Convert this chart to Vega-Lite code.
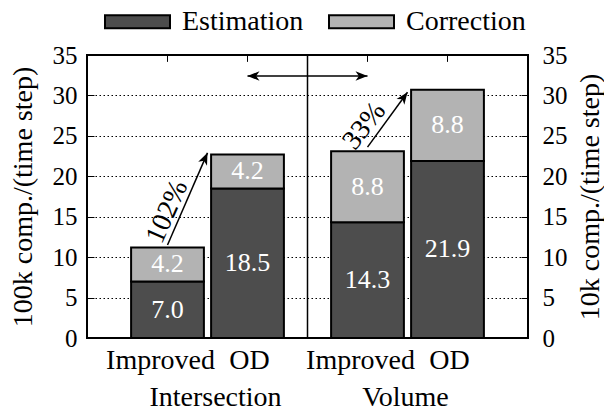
{
  "$schema": "https://vega.github.io/schema/vega-lite/v6.json",
  "width": 441,
  "height": 283,
  "autosize": {"type": "none"},
  "padding": {"left": 87, "top": 55, "right": 76, "bottom": 73},
  "background": "white",
  "config": {
    "font": "Liberation Serif",
    "view": {"stroke": "black", "strokeWidth": 2},
    "axis": {
      "labelFont": "Liberation Serif",
      "titleFont": "Liberation Serif",
      "labelFontSize": 25,
      "titleFontSize": 28,
      "labelColor": "black",
      "titleColor": "black",
      "titleFontWeight": "normal",
      "domain": false
    },
    "legend": {
      "labelFont": "Liberation Serif",
      "labelFontSize": 28,
      "labelColor": "black"
    }
  },
  "datasets": {
    "bars": [
      {"group": "Intersection", "method": "Improved", "part": "Estimation", "value": 7.0},
      {"group": "Intersection", "method": "Improved", "part": "Correction", "value": 4.2},
      {"group": "Intersection", "method": "OD", "part": "Estimation", "value": 18.5},
      {"group": "Intersection", "method": "OD", "part": "Correction", "value": 4.2},
      {"group": "Volume", "method": "Improved", "part": "Estimation", "value": 14.3},
      {"group": "Volume", "method": "Improved", "part": "Correction", "value": 8.8},
      {"group": "Volume", "method": "OD", "part": "Estimation", "value": 21.9},
      {"group": "Volume", "method": "OD", "part": "Correction", "value": 8.8}
    ]
  },
  "resolve": {"scale": {"y": "independent"}},
  "layer": [
    {
      "encoding": {
        "x": {
          "field": "group",
          "type": "nominal",
          "sort": ["Intersection", "Volume"],
          "scale": {"paddingInner": 0, "paddingOuter": 0.1025},
          "axis": {
            "orient": "bottom",
            "title": null,
            "ticks": false,
            "labelAngle": 0,
            "labelPadding": 45,
            "labelBaseline": "top",
            "labelFontSize": 28,
            "labelOffset": {"condition": {"test": "datum.value === 'Intersection'", "value": 8}, "value": -2}
          }
        }
      },
      "layer": [
        {
          "data": {"name": "bars"},
          "mark": {"type": "bar", "stroke": "black", "strokeWidth": 2},
          "encoding": {
            "xOffset": {"field": "method", "type": "nominal", "sort": ["Improved", "OD"], "scale": {"paddingInner": 0.09, "paddingOuter": 0.295}},
            "y": {
              "field": "value",
              "type": "quantitative",
              "stack": "zero",
              "scale": {"domain": [0, 35], "nice": false},
              "axis": {
                "orient": "left",
                "values": [0, 5, 10, 15, 20, 25, 30, 35],
                "title": "100k comp./(time step)",
                "tickSize": -7,
                "tickColor": "black",
                "tickWidth": 1,
                "labelPadding": 17,
                "titlePadding": 15,
                "grid": true,
                "gridColor": "black",
                "gridDash": [1.5, 2.5],
                "gridWidth": 1,
                "gridOpacity": 1
              }
            },
            "color": {
              "field": "part",
              "type": "nominal",
              "scale": {"domain": ["Estimation", "Correction"], "range": ["#4d4d4d", "#b3b3b3"]},
              "legend": {
                "orient": "none",
                "legendX": 17,
                "legendY": -67,
                "direction": "horizontal",
                "title": null,
                "padding": 0,
                "symbolType": "M-1,-0.2H1V0.2H-1Z",
                "symbolSize": 4225,
                "symbolStrokeColor": "black",
                "symbolStrokeWidth": 2,
                "symbolOpacity": 1,
                "labelOffset": 11,
                "columnPadding": 21
              }
            },
            "order": {"field": "part", "sort": "descending"}
          }
        },
        {
          "data": {"name": "bars"},
          "mark": {"type": "text", "color": "white", "fontSize": 26, "baseline": "middle"},
          "encoding": {
            "xOffset": {"field": "method", "type": "nominal", "sort": ["Improved", "OD"], "scale": {"paddingInner": 0.09, "paddingOuter": 0.295}},
            "y": {"field": "value", "type": "quantitative", "stack": "zero", "bandPosition": 0.5},
            "detail": {"field": "part"},
            "order": {"field": "part", "sort": "descending"},
            "text": {"field": "value", "type": "quantitative", "format": ".1f"}
          }
        },
        {
          "data": {"name": "bars"},
          "transform": [{"filter": "datum.part === 'Estimation' && datum.method === 'Improved'"}],
          "mark": {"type": "text", "color": "black", "fontSize": 28, "baseline": "alphabetic", "dy": 31, "dx": -7},
          "encoding": {
            "xOffset": {"field": "method", "type": "nominal", "sort": ["Improved", "OD"]},
            "y": {"datum": 0},
            "text": {"field": "method"}
          }
        },
        {
          "data": {"name": "bars"},
          "transform": [{"filter": "datum.part === 'Estimation' && datum.method === 'OD'"}],
          "mark": {"type": "text", "color": "black", "fontSize": 28, "baseline": "alphabetic", "dy": 31, "dx": 2},
          "encoding": {
            "xOffset": {"field": "method", "type": "nominal", "sort": ["Improved", "OD"]},
            "y": {"datum": 0},
            "text": {"field": "method"}
          }
        },
        {
          "data": {"name": "bars"},
          "transform": [{"filter": "datum.part === 'Estimation'"}],
          "mark": {"type": "rule", "color": "black", "strokeWidth": 1},
          "encoding": {
            "xOffset": {"field": "method", "type": "nominal", "sort": ["Improved", "OD"]},
            "y": {"datum": 35},
            "y2": {"datum": 34.15}
          }
        },
        {
          "data": {"values": [{"at": "Volume"}]},
          "mark": {"type": "rule", "color": "black", "strokeWidth": 1.5},
          "encoding": {
            "x": {"field": "at", "type": "nominal", "bandPosition": 0}
          }
        },
        {
          "data": {"values": [{"group": "Intersection", "method": "OD", "y": 32.4}, {"group": "Volume", "method": "Improved", "y": 32.4}]},
          "mark": {"type": "line", "color": "black", "strokeWidth": 1.5},
          "encoding": {
            "xOffset": {"field": "method", "type": "nominal", "sort": ["Improved", "OD"]},
            "y": {"field": "y", "type": "quantitative"}
          }
        },
        {
          "data": {"values": [{"group": "Intersection", "method": "OD", "y": 32.4}]},
          "mark": {"type": "point", "filled": true, "color": "black", "opacity": 1, "size": 576, "shape": "M0,0L1,-0.4L0.72,0L1,0.4Z", "dx": -4},
          "encoding": {
            "xOffset": {"field": "method", "type": "nominal", "sort": ["Improved", "OD"]},
            "y": {"field": "y", "type": "quantitative"}
          }
        },
        {
          "data": {"values": [{"group": "Volume", "method": "Improved", "y": 32.4}]},
          "mark": {"type": "point", "filled": true, "color": "black", "opacity": 1, "size": 576, "shape": "M0,0L-1,-0.4L-0.72,0L-1,0.4Z", "dx": 3},
          "encoding": {
            "xOffset": {"field": "method", "type": "nominal", "sort": ["Improved", "OD"]},
            "y": {"field": "y", "type": "quantitative"}
          }
        },
        {
          "data": {"values": [{"group": "Intersection", "method": "Improved", "from": 11.5, "to": 22.9}, {"group": "Volume", "method": "Improved", "from": 23.6, "to": 30.4}]},
          "mark": {"type": "rule", "color": "black", "strokeWidth": 1.5},
          "encoding": {
            "xOffset": {"field": "method", "type": "nominal", "sort": ["Improved", "OD"]},
            "y": {"field": "from", "type": "quantitative"},
            "x2": {"field": "group", "bandPosition": 0.5},
            "y2": {"field": "to"}
          }
        },
        {
          "data": {"values": [{"group": "Intersection", "to": 22.9}]},
          "mark": {"type": "point", "filled": true, "color": "black", "opacity": 1, "size": 576, "shape": "M0,0L-1,-0.4L-0.72,0L-1,0.4Z", "angle": 294},
          "encoding": {
            "x": {"field": "group", "type": "nominal", "bandPosition": 0.5},
            "y": {"field": "to", "type": "quantitative"}
          }
        },
        {
          "data": {"values": [{"group": "Volume", "to": 30.4}]},
          "mark": {"type": "point", "filled": true, "color": "black", "opacity": 1, "size": 576, "shape": "M0,0L-1,-0.4L-0.72,0L-1,0.4Z", "angle": 306},
          "encoding": {
            "x": {"field": "group", "type": "nominal", "bandPosition": 0.5},
            "y": {"field": "to", "type": "quantitative"}
          }
        },
        {
          "data": {"values": [{"group": "Intersection", "method": "Improved", "y": 15.6, "label": "102%"}]},
          "mark": {"type": "text", "color": "black", "fontSize": 28, "angle": 294, "baseline": "middle"},
          "encoding": {
            "xOffset": {"field": "method", "type": "nominal", "sort": ["Improved", "OD"]},
            "y": {"field": "y", "type": "quantitative"},
            "text": {"field": "label"}
          }
        },
        {
          "data": {"values": [{"group": "Volume", "method": "Improved", "y": 26.7, "label": "33%"}]},
          "mark": {"type": "text", "color": "black", "fontSize": 28, "angle": 308, "baseline": "middle", "dx": -5},
          "encoding": {
            "xOffset": {"field": "method", "type": "nominal", "sort": ["Improved", "OD"]},
            "y": {"field": "y", "type": "quantitative"},
            "text": {"field": "label"}
          }
        }
      ]
    },
    {
      "data": {"values": [{}]},
      "mark": {"type": "rule", "opacity": 0},
      "encoding": {
        "y": {
          "datum": 0,
          "type": "quantitative",
          "scale": {"domain": [0, 35], "nice": false},
          "axis": {
            "orient": "right",
            "values": [0, 5, 10, 15, 20, 25, 30, 35],
            "title": "10k comp./(time step)",
            "titleAngle": 270,
            "titleBaseline": "top",
            "tickSize": -7,
            "tickColor": "black",
            "tickWidth": 1,
            "labelPadding": 21,
            "titlePadding": 9,
            "grid": false
          }
        }
      }
    }
  ]
}
